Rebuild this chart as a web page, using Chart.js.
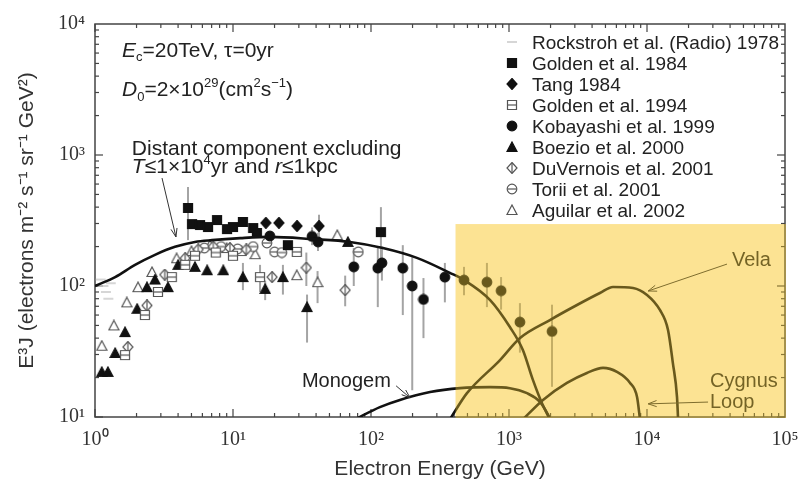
<!DOCTYPE html>
<html lang="en">
<head>
  <meta charset="UTF-8">
  <title>Electron spectrum</title>
  <script src="https://cdn.jsdelivr.net/npm/chart.js"></script>
  <style>
    body { margin: 0; background: #fff; }
    .grafico { width: 801px; height: 482px; }
  </style>
</head>
<body>
  <div class="grafico">
    <canvas id="myChart" width="801" height="482"></canvas>
  </div>

<script>
// curvas do modelo: [energia (GeV), E^3 J]
const distante = [[1, 100], [1.4, 117], [1.95, 145], [2.72, 173], [3.8, 199], [5.3, 217], [7.04, 224], [11.3, 232], [18.5, 237], [37.9, 228], [70.3, 217], [122, 195], [215, 164], [373, 126], [472, 111], [730, 78], [1015, 48.6], [1260, 32.5], [1490, 19.2], [1730, 12.8], [1980, 9.6]];
const monogem = [[76.6, 9.6], [116, 11.9], [162, 13.5], [268, 15.5], [442, 16.6], [730, 16.9], [1015, 16.6], [1350, 15.2], [1680, 13.0], [1920, 10.4], [1990, 9.6]];
const vela = [[373, 9.6], [496, 15.2], [861, 27.2], [1202, 40.1], [1980, 55], [3110, 71.6], [4560, 88.4], [5670, 98.3], [7920, 96.5], [10000, 85.4], [12400, 65.6], [14200, 46.2], [15400, 25.8], [16500, 14.2], [16800, 9.6]];
const cygnus = [[1263, 9.6], [1763, 13.5], [2630, 18.2], [3670, 21.7], [4800, 23.7], [6060, 22.1], [7540, 18.2], [8470, 14.2], [8900, 9.6]];

// medidas: [energia, E^3 J, limite inferior, limite superior]
const rockstroh = [[1.1, 112], [1.15, 100], [1.2, 90], [1.25, 80], [1.3, 105]];
const golden84 = [[4.72, 394, 224, 570], [5.05, 297], [5.77, 292], [6.59, 282], [7.66, 319], [9.05, 272], [10.0, 282], [11.8, 308], [14.0, 277], [14.9, 254], [25, 205], [118, 258, 160, 400]];
const tang = [[17.3, 303], [21.5, 303], [29.1, 287], [42, 287, 230, 350]];
const golden94 = [[1.65, 29.7], [2.3, 60], [2.86, 90], [3.6, 117], [4.5, 145], [5.3, 170], [7.5, 180], [10, 170], [15.7, 117, 90, 145], [29, 182]];
const kobayashi = [[18.5, 241], [37.4, 239, 205, 280], [41.3, 217, 185, 255], [75, 140, 100, 195], [112, 137, 69, 197], [120, 150, 110, 200], [170, 137, 60, 205], [199, 100, 16, 166], [240, 79, 40, 115], [343, 117, 75, 150], [472, 111, 85, 140], [692, 107, 69, 150], [876, 92, 66, 117], [1200, 53, 31, 74], [2050, 45, 17, 72]];
const boezio = [[1.12, 22.1], [1.24, 22.1], [1.4, 30.8], [1.65, 44.5], [2.02, 67], [2.38, 98], [2.72, 112], [3.38, 98], [4.0, 145], [5.3, 140], [6.5, 132], [8.5, 132], [11.8, 117, 93, 150], [17.1, 95, 78, 110], [23, 117, 86, 145], [34.4, 69, 37, 86], [68, 217]];
const duvernois = [[1.73, 34.2], [2.38, 71], [3.2, 122], [4.5, 163], [5.6, 190], [7.2, 200], [9.5, 195], [12.5, 190], [19.2, 117], [34, 138, 100, 180], [65, 93, 70, 120]];
const torii = [[6.2, 195], [8.2, 200], [10.8, 192], [14, 200], [17.6, 213], [20, 182], [22.6, 180], [81, 182]];
const aguilar = [[1.12, 35], [1.37, 50], [1.7, 75], [2.05, 98], [2.59, 128], [3.9, 163], [5.0, 185], [6.8, 205], [9, 195], [11.5, 185], [14.5, 175], [29, 121], [41, 107, 74, 130], [57, 245]];

const sup = '⁰¹²³⁴⁵⁶⁷⁸⁹';
const fonte = '"Liberation Sans", Arial, sans-serif';

// desenha os simbolos num canvas pequeno (usado nos pontos e na legenda)
function simbolo(tipo, cheio, cor) {
  const c = document.createElement('canvas');
  c.width = 12; c.height = 12;
  const g = c.getContext('2d');
  g.strokeStyle = cor; g.fillStyle = cheio ? cor : '#fff'; g.lineWidth = 1.2;
  g.beginPath();
  if (tipo === 'quadrado' || tipo === 'quadradoBarra') g.rect(1.5, 1.5, 9, 9);
  if (tipo === 'losango' || tipo === 'losangoBarra') { g.moveTo(6, 0.5); g.lineTo(11, 6); g.lineTo(6, 11.5); g.lineTo(1, 6); g.closePath(); }
  if (tipo === 'circulo' || tipo === 'circuloBarra') g.arc(6, 6, 4.8, 0, Math.PI * 2);
  if (tipo === 'triangulo') { g.moveTo(6, 1); g.lineTo(11, 10.5); g.lineTo(1, 10.5); g.closePath(); }
  if (tipo === 'traco') { g.moveTo(1, 6); g.lineTo(11, 6); g.lineWidth = 1.5; g.stroke(); return c; }
  g.fill(); g.stroke();
  if (tipo.endsWith('Barra')) {
    g.beginPath();
    if (tipo === 'losangoBarra') { g.moveTo(6, 1); g.lineTo(6, 11); }
    else { g.moveTo(2, 6); g.lineTo(10, 6); }
    g.stroke();
  }
  return c;
}

function serieCurva(label, arr) {
  return {
    label, curva: true,
    data: arr.map(([x, y]) => ({ x, y })),
    showLine: true, pointRadius: 0, borderColor: '#111', borderWidth: 2.6,
    cubicInterpolationMode: 'monotone', fill: false
  };
}

function serieDados(label, arr, simb) {
  return {
    label,
    data: arr.map(([x, y, lo, hi]) => ({ x, y, lo, hi })),
    pointStyle: simb, pointRadius: 5, showLine: false
  };
}

function potencia(v) {
  const e = Math.round(Math.log10(v));
  return Math.abs(Math.log10(v) - e) < 1e-6 ? '10' + sup[e] : '';
}

// texto com italico, indice e expoente
function texto(ctx, partes, x, y, tam) {
  let cx = x;
  partes.forEach(([s, t]) => {
    const peq = t === 'sub' || t === 'sup';
    ctx.font = (t === 'i' ? 'italic ' : '') + Math.round(peq ? tam * 0.62 : tam) + 'px ' + fonte;
    const dy = t === 'sub' ? tam * 0.22 : t === 'sup' ? -tam * 0.42 : 0;
    ctx.fillText(s, cx, y + dy);
    cx += ctx.measureText(s).width;
  });
}

function seta(ctx, a, b) {
  ctx.beginPath(); ctx.moveTo(a[0], a[1]); ctx.lineTo(b[0], b[1]); ctx.stroke();
  const ang = Math.atan2(b[1] - a[1], b[0] - a[0]);
  ctx.beginPath();
  ctx.moveTo(b[0] - 9 * Math.cos(ang - 0.35), b[1] - 9 * Math.sin(ang - 0.35));
  ctx.lineTo(b[0], b[1]);
  ctx.lineTo(b[0] - 9 * Math.cos(ang + 0.35), b[1] - 9 * Math.sin(ang + 0.35));
  ctx.stroke();
}

const enfeites = {
  id: 'enfeites',
  beforeDatasetsDraw(chart) {
    const { ctx, chartArea: a, scales: { x, y } } = chart;
    ctx.save();
    ctx.strokeStyle = '#444';
    ctx.lineWidth = 1.5;
    ctx.strokeRect(a.left, a.top, a.right - a.left, a.bottom - a.top);
    ctx.lineWidth = 1.2;
    const tr = (x1, y1, x2, y2) => { ctx.beginPath(); ctx.moveTo(x1, y1); ctx.lineTo(x2, y2); ctx.stroke(); };
    for (let d = 0; d < 5; d++) for (let m = 1; m < 10; m++) {
      const px = x.getPixelForValue(m * 10 ** d), l = m === 1 ? 8 : 4;
      tr(px, a.bottom, px, a.bottom - l); tr(px, a.top, px, a.top + l);
    }
    for (let d = 1; d < 4; d++) for (let m = 1; m < 10; m++) {
      const py = y.getPixelForValue(m * 10 ** d), l = m === 1 ? 8 : 4;
      tr(a.left, py, a.left + l, py); tr(a.right, py, a.right - l, py);
    }
    // barras de erro
    ctx.strokeStyle = '#a4a4a4';
    ctx.lineWidth = 2;
    chart.data.datasets.forEach(ds => {
      ds.data.forEach(p => {
        if (p.lo === undefined) return;
        const px = x.getPixelForValue(p.x);
        tr(px, y.getPixelForValue(p.lo), px, y.getPixelForValue(p.hi));
      });
    });
    ctx.restore();
  },
  afterDatasetsDraw(chart) {
    const { ctx, chartArea: a, scales: { x, y } } = chart;
    const P = (e, f) => [x.getPixelForValue(e), y.getPixelForValue(f)];
    ctx.save();
    ctx.fillStyle = '#222';
    ctx.textBaseline = 'alphabetic';
    let p = P(1.57, 5600);
    texto(ctx, [['E', 'i'], ['c', 'sub'], ['=20TeV, τ=0yr', 'n']], p[0], p[1], 20.5);
    p = P(1.57, 2820);
    texto(ctx, [['D', 'i'], ['0', 'sub'], ['=2×10', 'n'], ['29', 'sup'], ['(cm', 'n'], ['2', 'sup'], ['s', 'n'], ['−1', 'sup'], [')', 'n']], p[0], p[1], 20.5);
    p = P(1.85, 1000);
    texto(ctx, [['Distant component excluding', 'n']], p[0], p[1], 21);
    p = P(1.85, 729);
    texto(ctx, [['T', 'i'], ['≤1×10', 'n'], ['4', 'sup'], ['yr and ', 'n'], ['r', 'i'], ['≤1kpc', 'n']], p[0], p[1], 21);
    p = P(31.6, 16.9);
    texto(ctx, [['Monogem', 'n']], p[0], p[1], 20);
    p = P(41300, 142);
    texto(ctx, [['Vela', 'n']], p[0], p[1], 19.5);
    p = P(28600, 16.9);
    texto(ctx, [['Cygnus', 'n']], p[0], p[1], 20);
    p = P(28600, 11.7);
    texto(ctx, [['Loop', 'n']], p[0], p[1], 20);

    ctx.strokeStyle = '#333';
    ctx.lineWidth = 1;
    seta(ctx, P(3.06, 667), P(3.86, 237));
    seta(ctx, P(152, 17.3), P(192, 14.0));
    seta(ctx, P(38000, 147), P(10200, 91.6));
    seta(ctx, P(27700, 13.0), P(10200, 12.6));

    // legenda
    const series = chart.data.datasets.filter(ds => !ds.curva);
    series.forEach((ds, i) => {
      const ly = a.top + 18 + 21 * i;
      ctx.drawImage(ds.pointStyle, a.right - 279, ly - 6, 12, 12);
      texto(ctx, [[ds.label, 'n']], a.right - 253, ly + 6.5, 19);
    });

    // faixa amarela: multiplica e depois uma camada translucida
    const x0 = x.getPixelForValue(410), y0 = y.getPixelForValue(297);
    const w = a.right + 1 - x0, h = a.bottom + 1 - y0;
    ctx.globalCompositeOperation = 'multiply';
    ctx.fillStyle = 'rgb(253, 237, 206)';
    ctx.fillRect(x0, y0, w, h);
    ctx.globalCompositeOperation = 'source-over';
    ctx.fillStyle = 'rgba(250, 210, 53, 0.38)';
    ctx.fillRect(x0, y0, w, h);
    ctx.restore();
  }
};

const datasets = [
  serieCurva('Distant component', distante),
  serieCurva('Monogem', monogem),
  serieCurva('Vela', vela),
  serieCurva('Cygnus Loop', cygnus),
  serieDados('Rockstroh et al. (Radio) 1978', rockstroh, simbolo('traco', false, '#c8c8c8')),
  serieDados('Golden et al. 1984', golden84, simbolo('quadrado', true, '#111')),
  serieDados('Tang 1984', tang, simbolo('losango', true, '#111')),
  serieDados('Golden et al. 1994', golden94, simbolo('quadradoBarra', false, '#555')),
  serieDados('Kobayashi et al. 1999', kobayashi, simbolo('circulo', true, '#111')),
  serieDados('Boezio et al. 2000', boezio, simbolo('triangulo', true, '#111')),
  serieDados('DuVernois et al. 2001', duvernois, simbolo('losangoBarra', false, '#555')),
  serieDados('Torii et al. 2001', torii, simbolo('circuloBarra', false, '#555')),
  serieDados('Aguilar et al. 2002', aguilar, simbolo('triangulo', false, '#555'))
];

const ctx = document.getElementById('myChart');
new Chart(ctx, {
  type: 'scatter',
  data: { datasets },
  options: {
    responsive: false,
    animation: false,
    devicePixelRatio: 1,
    layout: { padding: { top: 24, right: 16, left: 0, bottom: 0 } },
    plugins: { legend: { display: false }, tooltip: { enabled: false } },
    scales: {
      x: {
        type: 'logarithmic', min: 1, max: 1e5,
        grid: { display: false, drawTicks: false }, border: { display: false },
        ticks: { autoSkip: false, maxRotation: 0, padding: 11, color: '#333', font: { family: 'Liberation Serif', size: 20 }, callback: potencia },
        title: { display: true, text: 'Electron Energy (GeV)', color: '#333', font: { family: 'Liberation Sans', size: 21 }, padding: { top: 0, bottom: 0 } },
        afterFit(s) { s.height = 65; s.paddingLeft = 0; s.paddingRight = 0; }
      },
      y: {
        type: 'logarithmic', min: 10, max: 1e4,
        grid: { display: false, drawTicks: false }, border: { display: false },
        ticks: { autoSkip: false, padding: 10, color: '#333', font: { family: 'Liberation Serif', size: 20 }, callback: potencia },
        title: { display: true, text: 'E³J (electrons m⁻² s⁻¹ sr⁻¹ GeV²)', color: '#333', font: { family: 'Liberation Sans', size: 21 }, padding: { top: 15, bottom: 0 } },
        afterFit(s) { s.width = 95; s.paddingTop = 0; s.paddingBottom = 0; }
      }
    }
  },
  plugins: [enfeites]
});
</script>
</body>
</html>
